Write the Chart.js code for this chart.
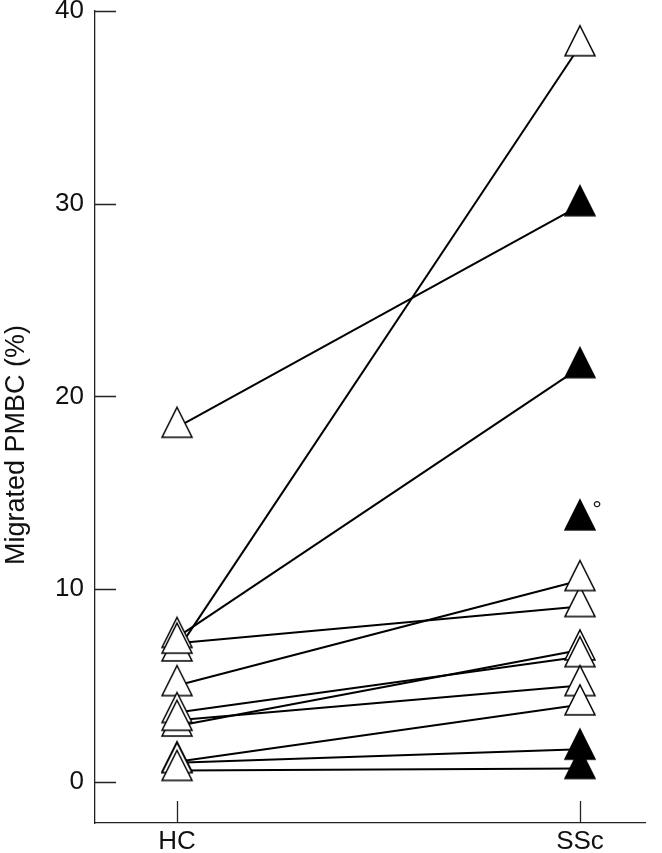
<!DOCTYPE html>
<html>
<head>
<meta charset="utf-8">
<script src="https://cdn.jsdelivr.net/npm/chart.js@4.4.0/dist/chart.umd.min.js"></script>
<style>
html, body { margin: 0; padding: 0; background: #fff; }
</style>
</head>
<body>
<canvas id="chartM" width="662" height="853"></canvas>
<script>
'use strict'

// grupos (eje x)
let grupos = ['HC', 'SSc'];

// pares HC -> SSc, una linea por donante
let valoresHC  = [18.4, 7.5, 6.8, 7.2, 5.0, 2.9, 3.6, 3.2, 1.05, 1.0, 0.6];
let valoresSSc = [29.9, 21.5, 38.2, 9.1, 10.45, 6.85, 6.5, 5.0, 4.0, 1.7, 0.7];
let rellenoSSc = [true, true, false, false, false, false, false, false, false, true, true];

// SSc sin pareja, marcado con °
let soloSSc = [13.6];

// eje y
let ticksY = [0, 10, 20, 30, 40];
let tituloY = 'Migrated PMBC (%)';

let fuente = "'Liberation Sans', Arial, sans-serif";

// triangulo como imagen: el centro del canvas es el centroide
function triangulo(relleno){
    var c = document.createElement('canvas');
    c.width = 34;
    c.height = 46;
    var g = c.getContext('2d');
    g.beginPath();
    g.moveTo(17, 3);
    g.lineTo(32, 33);
    g.lineTo(2, 33);
    g.closePath();
    g.fillStyle = relleno ? '#000' : '#fff';
    g.fill();
    g.lineWidth = 1.5;
    g.strokeStyle = '#000';
    g.stroke();
    return c;
}
let triAbierto = triangulo(false);
let triLleno = triangulo(true);

// datasets de lineas
var datasets = [];
valoresHC.forEach((v, i) => {
    datasets.push({
        data: [{x: 0, y: v}, {x: 1, y: valoresSSc[i]}],
        showLine: true,
        borderColor: '#000',
        borderWidth: 2,
        pointRadius: 0,
        order: 1
    });
});

// marcadores
datasets.push({
    data: valoresHC.map(v => ({x: 0, y: v})),
    pointStyle: triAbierto,
    order: 0
});
let puntosSSc = valoresSSc.concat(soloSSc);
let llenosSSc = rellenoSSc.concat(soloSSc.map(() => true));
datasets.push({
    data: puntosSSc.map(v => ({x: 1, y: v})),
    pointStyle: llenosSSc.map(f => f ? triLleno : triAbierto),
    order: 0
});

// ticks hacia adentro, titulo y el simbolo °
let extras = {
    id: 'extras',
    afterDraw(chart){
        const ctx = chart.ctx;
        const sx = chart.scales.x;
        const sy = chart.scales.y;
        const area = chart.chartArea;
        ctx.save();
        ctx.strokeStyle = '#222';
        ctx.lineWidth = 1.3;
        ctx.beginPath();
        ticksY.forEach(v => {
            let py = Math.round(sy.getPixelForValue(v)) + 0.5;
            ctx.moveTo(area.left, py);
            ctx.lineTo(area.left + 21, py);
        });
        grupos.forEach((g, i) => {
            let px = Math.round(sx.getPixelForValue(i)) + 0.5;
            ctx.moveTo(px, area.bottom);
            ctx.lineTo(px, area.bottom - 22);
        });
        ctx.stroke();

        // titulo eje y
        ctx.fillStyle = '#111';
        ctx.font = '27px ' + fuente;
        ctx.textAlign = 'center';
        ctx.textBaseline = 'middle';
        ctx.translate(17, 445);
        ctx.rotate(-Math.PI / 2);
        ctx.fillText(tituloY, 0, 0);
        ctx.restore();

        // ° junto al SSc sin pareja
        const meta = chart.getDatasetMeta(chart.data.datasets.length - 1);
        ctx.save();
        ctx.fillStyle = '#111';
        ctx.font = '24px ' + fuente;
        ctx.textAlign = 'center';
        ctx.textBaseline = 'alphabetic';
        soloSSc.forEach((v, k) => {
            let p = meta.data[valoresSSc.length + k];
            ctx.fillText('°', p.x + 17, p.y - 3);
        });
        ctx.restore();
    }
};

const ctx = document.getElementById('chartM').getContext('2d');
const myChart = new Chart(ctx, {
    type: 'scatter',
    data: { datasets: datasets },
    options: {
        responsive: false,
        animation: false,
        devicePixelRatio: 1,
        layout: {
            padding: { top: 11, right: 17, bottom: 0, left: 0 }
        },
        plugins: {
            legend: { display: false },
            tooltip: { enabled: false }
        },
        scales: {
            x: {
                type: 'linear',
                min: -0.2035,
                max: 1.1613,
                grid: { display: false, drawTicks: false },
                border: { display: true, color: '#222', width: 1.3 },
                afterBuildTicks: axis => { axis.ticks = grupos.map((g, i) => ({value: i})); },
                afterFit: scale => {
                    scale.height = 30;
                    scale.paddingLeft = 0;
                    scale.paddingRight = 0;
                },
                ticks: {
                    color: '#111',
                    font: { family: fuente, size: 26, lineHeight: 1 },
                    padding: 6,
                    maxRotation: 0,
                    callback: v => grupos[v]
                }
            },
            y: {
                type: 'linear',
                min: -2.13,
                max: 40,
                grid: { display: false, drawTicks: false },
                border: { display: true, color: '#222', width: 1.3 },
                afterBuildTicks: axis => { axis.ticks = ticksY.map(v => ({value: v})); },
                afterFit: scale => {
                    scale.width = 95;
                    scale.paddingTop = 0;
                    scale.paddingBottom = 0;
                },
                ticks: {
                    color: '#111',
                    font: { family: fuente, size: 26 },
                    padding: 11
                }
            }
        }
    },
    plugins: [extras]
});
</script>
</body>
</html>
